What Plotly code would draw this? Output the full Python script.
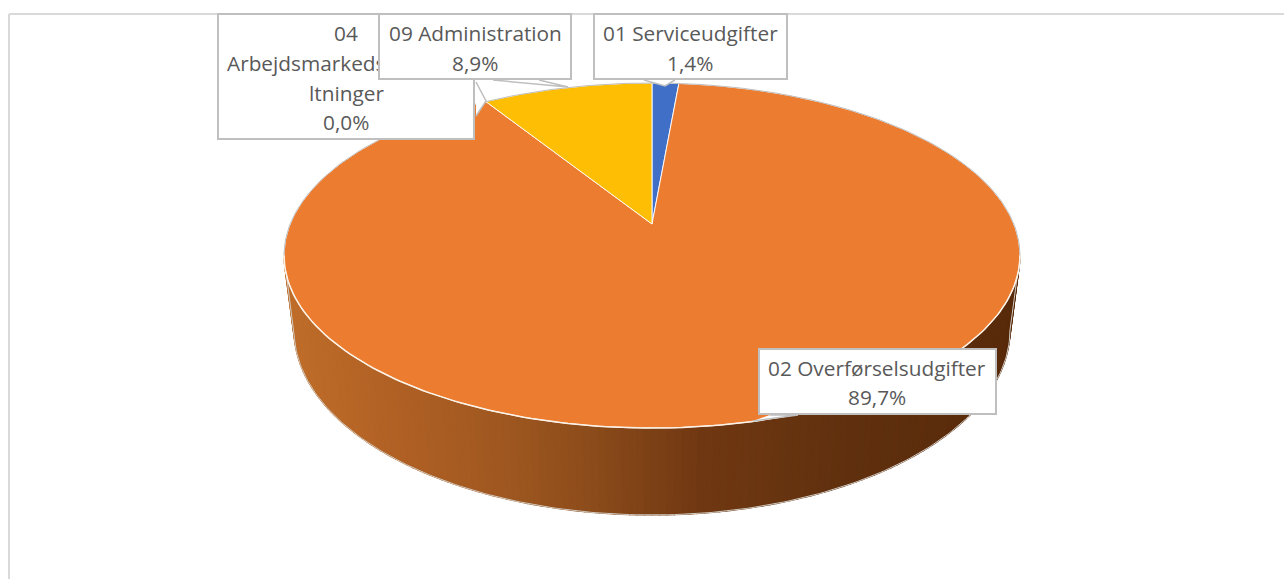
import math
import plotly.graph_objects as go

# ---- data ----
categories = ["01 Serviceudgifter", "02 Overførselsudgifter",
              "04 Arbejdsmarkedsforanstaltninger", "09 Administration"]
values = [1.4, 89.7, 0.0, 8.9]
colors = ["#3F6FC6", "#EC7C30", "#A5A5A5", "#FDBE03"]

# ---- projection of the pie disc onto the page ----
CX, CY = 652.0, 224.0
A, B, K = 361.8, 166.8, 0.1827
RIM_Y, RIM_A, RIM_B = 255.5, 368.0, 172.5
BASE_Y, BASE_A, BASE_B = 330.0, 358.0, 185.0

WALL_STOPS = [(284, (192, 110, 42)), (400, (176, 96, 36)), (500, (160, 88, 32)),
              (600, (138, 74, 26)), (700, (112, 56, 18)), (850, (96, 48, 14)),
              (1020, (88, 42, 10))]
GREY = "#BFBFBF"
TEXT = "#595959"
FONT = "Open Sans"
FS = 20.8


def project(theta):
    X, Y = math.sin(theta), math.cos(theta)
    w = 1 + K * Y
    return CX + A * X / w, CY - B * Y / w


def wall_color(x):
    for (x0, c0), (x1, c1) in zip(WALL_STOPS, WALL_STOPS[1:]):
        if x <= x1:
            t = max(0.0, (x - x0) / (x1 - x0))
            return "rgb(%d,%d,%d)" % tuple(round(a + (b - a) * t) for a, b in zip(c0, c1))
    return "rgb(%d,%d,%d)" % WALL_STOPS[-1][1]


fig = go.Figure()

# side wall, as thin gradient strips
N = 150
for i in range(N):
    u0, u1 = math.pi * i / N, math.pi * (i + 1) / N
    xs = [CX - RIM_A * math.cos(u0), CX - RIM_A * math.cos(u1),
          CX - BASE_A * math.cos(u1), CX - BASE_A * math.cos(u0)]
    ys = [RIM_Y + RIM_B * math.sin(u0), RIM_Y + RIM_B * math.sin(u1),
          BASE_Y + BASE_B * math.sin(u1), BASE_Y + BASE_B * math.sin(u0)]
    c = wall_color(sum(xs) / 4)
    fig.add_trace(go.Scatter(x=xs + xs[:1], y=ys + ys[:1], mode="lines", fill="toself",
                             fillcolor=c, line=dict(width=1.2, color=c), hoverinfo="skip"))

# thin outline round the base
us = [math.pi * i / 200 for i in range(201)]
fig.add_trace(go.Scatter(x=[CX - RIM_A] + [CX - BASE_A * math.cos(u) for u in us] + [CX + RIM_A],
                         y=[RIM_Y] + [BASE_Y + BASE_B * math.sin(u) for u in us] + [RIM_Y],
                         mode="lines", line=dict(color="#D0CCC4", width=1), hoverinfo="skip"))

# top face: one wedge per value
total = sum(values)
start = 0.0
for name, v, col in zip(categories, values, colors):
    sweep = 2 * math.pi * v / total
    if v > 0:
        n = max(4, int(v * 6))
        pts = [project(start + sweep * j / n) for j in range(n + 1)]
        xs = [CX] + [p[0] for p in pts] + [CX]
        ys = [CY] + [p[1] for p in pts] + [CY]
        fig.add_trace(go.Scatter(x=xs, y=ys, mode="lines", fill="toself", fillcolor=col,
                                 line=dict(color="rgba(255,255,255,0.9)", width=1),
                                 name=name, hoverinfo="name"))
    start += sweep

# rim: grey on the upper half, white on the lower half
up = [math.pi + math.pi * i / 150 for i in range(151)]
low = [math.pi * i / 150 for i in range(151)]
fig.add_trace(go.Scatter(x=[CX - RIM_A * math.cos(u) for u in up],
                         y=[RIM_Y + RIM_B * math.sin(u) for u in up],
                         mode="lines", line=dict(color=GREY, width=1), hoverinfo="skip"))
fig.add_trace(go.Scatter(x=[CX - RIM_A * math.cos(u) for u in low],
                         y=[RIM_Y + RIM_B * math.sin(u) for u in low],
                         mode="lines", line=dict(color="#FBF3E8", width=1.5), hoverinfo="skip"))

# callout pointers
pointers = [
    ([476, 486, 476], [82, 101, 116]),
    ([493, 568, 539], [80, 87, 80]),
    ([644, 665, 675], [80, 86, 80]),
    ([753, 798, 770], [421, 415, 415]),
]
for px, py in pointers:
    fig.add_trace(go.Scatter(x=px, y=py, mode="lines", fill="toself", fillcolor="white",
                             line=dict(color=GREY, width=1.5), hoverinfo="skip"))


def fmt(v):
    return ("%.1f" % v).replace(".", ",") + "%"


boxes = [
    # x0, y0, x1, y1, text lines with y centres (None = use centre of the box)
    (217, 13, 475, 140, [("04", 33, 346), ("Arbejdsmarkeds", 63, 306), ("ltninger", 93, 346),
                         (fmt(values[2]), 122, 346)]),
    (378, 13, 572, 80, [("09 Administration", 33, 475), (fmt(values[3]), 63, 475)]),
    (593, 13, 788, 80, [("01 Serviceudgifter", 33, 690), (fmt(values[0]), 63, 690)]),
    (758, 348, 997, 415, [("02 Overførselsudgifter", 368, 877), (fmt(values[1]), 397, 877)]),
]
anns = []
for x0, y0, x1, y1, lines in boxes:
    anns.append(dict(x=x0, y=y0, xref="x", yref="y", xanchor="left", yanchor="top",
                     text=" ", showarrow=False, width=x1 - x0 - 4, height=y1 - y0 - 4,
                     bgcolor="white", bordercolor=GREY, borderwidth=2, borderpad=0,
                     font=dict(size=8)))
    for txt, yc, xc in lines:
        anns.append(dict(x=xc, y=yc, xref="x", yref="y", xanchor="center",
                         yanchor="middle", text=txt, showarrow=False,
                         font=dict(family=FONT, size=FS, color=TEXT)))

fig.update_layout(
    width=1284, height=579, margin=dict(l=0, r=0, t=0, b=0),
    paper_bgcolor="white", plot_bgcolor="white", showlegend=False,
    xaxis=dict(range=[0, 1284], visible=False, fixedrange=True),
    yaxis=dict(range=[579, 0], visible=False, fixedrange=True),
    shapes=[dict(type="line", xref="x", yref="y", x0=9, x1=1284, y0=14, y1=14,
                 line=dict(color="#D9D9D9", width=2), layer="below"),
            dict(type="line", xref="x", yref="y", x0=9, x1=9, y0=14, y1=579,
                 line=dict(color="#D9D9D9", width=2), layer="below")],
    annotations=anns,
)

fig.write_html("out.html", config={"displayModeBar": False},
               post_script="document.body.style.margin='0';")
